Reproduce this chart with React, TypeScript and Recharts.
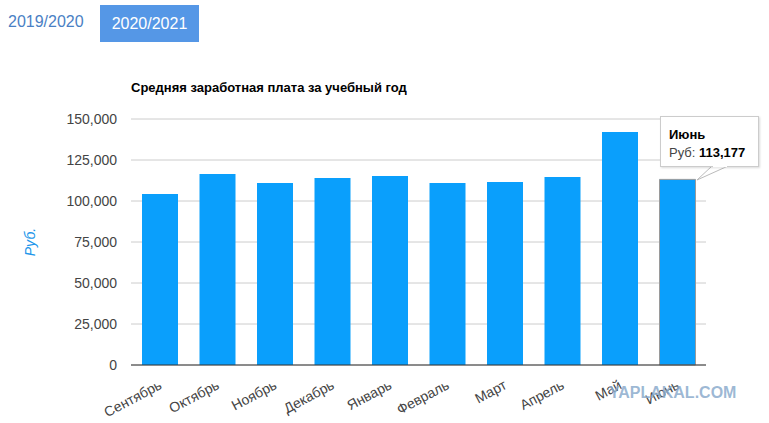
import { Bar, BarChart, CartesianGrid, Cell, Tooltip, XAxis, YAxis } from "recharts";

const months = [
  "Сентябрь",
  "Октябрь",
  "Ноябрь",
  "Декабрь",
  "Январь",
  "Февраль",
  "Март",
  "Апрель",
  "Май",
  "Июнь",
];
const salary = [104300, 116500, 111000, 114000, 115200, 111000, 111600, 114600, 142000, 113177];
const yTicks = [0, 25000, 50000, 75000, 100000, 125000, 150000];
const seasons = ["2019/2020", "2020/2021"];
const activeIndex = 9;

const data = months.map((month, i) => ({ month, value: salary[i] }));

const FONT = "'Liberation Sans', Arial, sans-serif";
const fmt = (v: number) => v.toLocaleString("en-US");

const MonthTick = ({ x, y, payload }: any) => (
  <g transform={`translate(${x + 3},${y + 15})`}>
    <text textAnchor="end" transform="rotate(-28)" fontSize={14} fontFamily={FONT} fill="#444">
      {payload.value}
    </text>
  </g>
);

const RubLabel = ({ viewBox }: any) => {
  const cy = viewBox.y + viewBox.height / 2;
  return (
    <text
      x={35}
      y={cy}
      transform={`rotate(-90 35 ${cy})`}
      textAnchor="middle"
      fontSize={14}
      fontStyle="italic"
      fontFamily={FONT}
      fill="#2196ea"
    >
      Руб.
    </text>
  );
};

const TipBox = ({ payload }: any) => {
  if (!payload || !payload.length) return null;
  const item = payload[0];
  return (
    <div style={{ position: "relative", width: 99, height: 51, fontFamily: FONT, fontSize: 13 }}>
      <svg
        width={99}
        height={70}
        style={{ position: "absolute", left: 0, top: 0, overflow: "visible" }}
      >
        <polygon points="52,50 68,50 37,64" fill="#fff" stroke="#bbb" strokeWidth={1} />
      </svg>
      <div
        style={{
          position: "absolute",
          left: 0,
          top: 0,
          width: 99,
          height: 51,
          boxSizing: "border-box",
          background: "#fff",
          border: "1px solid #ccc",
          boxShadow: "1px 1px 2px rgba(0,0,0,0.15)",
          padding: "9px 0 0 8px",
          color: "#000",
          lineHeight: "18px",
        }}
      >
        <div style={{ fontWeight: "bold" }}>{item.payload.month}</div>
        <div>
          <span style={{ color: "#444" }}>Руб: </span>
          <b>{fmt(item.value)}</b>
        </div>
      </div>
      <svg width={99} height={70} style={{ position: "absolute", left: 0, top: 0, overflow: "visible" }}>
        <line x1={53} y1={50.5} x2={67} y2={50.5} stroke="#fff" strokeWidth={1.5} />
      </svg>
    </div>
  );
};

export default function App() {
  return (
    <div style={{ position: "absolute", left: 0, top: 0, width: 769, height: 423, background: "#fff", fontFamily: FONT }}>
      <div style={{ position: "absolute", left: 8, top: 13, fontSize: 16, color: "#4a7fc4" }}>{seasons[0]}</div>
      <div
        style={{
          position: "absolute",
          left: 100,
          top: 5,
          width: 99,
          height: 37,
          background: "#5597e6",
          color: "#fff",
          fontSize: 16,
          textAlign: "center",
          lineHeight: "37px",
        }}
      >
        {seasons[1]}
      </div>
      <div style={{ position: "absolute", left: 131, top: 80, fontSize: 13, fontWeight: "bold", color: "#000" }}>
        Средняя заработная плата за учебный год
      </div>
      <BarChart width={769} height={423} data={data} margin={{ top: 119, right: 63, bottom: 0, left: 0 }}>
        <CartesianGrid vertical={false} stroke="#ccc" />
        <XAxis
          dataKey="month"
          height={58}
          interval={0}
          tickLine={false}
          axisLine={{ stroke: "#333" }}
          tick={<MonthTick />}
        />
        <YAxis
          width={131}
          domain={[0, 150000]}
          ticks={yTicks}
          tickFormatter={fmt}
          axisLine={false}
          tickLine={false}
          tickSize={0}
          tickMargin={14}
          tick={{ fontSize: 14, fill: "#444", fontFamily: FONT }}
          label={<RubLabel />}
        />
        <Tooltip
          active
          defaultIndex={activeIndex}
          cursor={false}
          position={{ x: 660, y: 116 }}
          isAnimationActive={false}
          wrapperStyle={{ outline: "none", zIndex: 5 }}
          content={<TipBox />}
        />
        <Bar dataKey="value" fill="#0a9ffc" barSize={36} isAnimationActive={false} activeBar={false}>
          {data.map((d, i) => (
            <Cell
              key={d.month}
              fill="#0a9ffc"
              stroke={i === activeIndex ? "#9a9a9a" : "none"}
              strokeWidth={i === activeIndex ? 1 : 0}
            />
          ))}
        </Bar>
      </BarChart>
      <div
        style={{
          position: "absolute",
          left: 609,
          top: 384,
          fontSize: 16,
          fontWeight: 700,
          fontFamily: FONT,
          color: "rgba(140,172,205,0.85)",
          pointerEvents: "none",
        }}
      >
        YAPLAKAL.COM
      </div>
    </div>
  );
}
